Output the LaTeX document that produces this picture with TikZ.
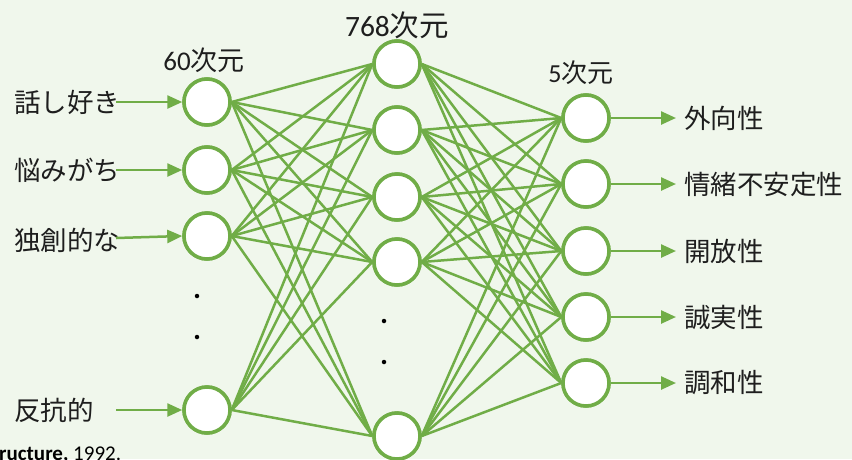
\documentclass[tikz,border=0pt]{standalone}
\usepackage{fontspec}
\setmainfont{Carlito}
\newfontfamily\jp{Noto Sans CJK JP}
\usetikzlibrary{arrows.meta}
\definecolor{bg}{RGB}{240,247,236}
\definecolor{gr}{RGB}{112,173,71}
\definecolor{tx}{RGB}{30,30,30}
\tikzset{
  neuron/.style={circle,draw=gr,line width=3.5pt,fill=white,inner sep=0pt,minimum size=46pt},
  link/.style={draw=gr,line width=2.5pt},
  io/.style={draw=gr,line width=2.5pt,-{Triangle[length=15pt,width=13pt]}},
  lbl/.style={font=\jp\fontsize{26.5}{30}\selectfont,text=tx,inner sep=0pt},
  dim/.style={text=tx,inner sep=0pt},
  dotc/.style={circle,fill=black,inner sep=0pt,minimum size=4.5pt}
}
\begin{document}
\begin{tikzpicture}[x=1pt,y=-1pt]
\useasboundingbox (0,0) rectangle (852,459);
\fill[bg] (0,0) rectangle (852,459);
\clip (0,0) rectangle (852,459);
% layer 1
\node[neuron] (a1) at (207,102) {};
\node[neuron] (a2) at (207,170) {};
\node[neuron] (a3) at (207,236) {};
\node[neuron] (a4) at (207,410) {};
% layer 2
\node[neuron] (b1) at (397,64) {};
\node[neuron] (b2) at (397,130) {};
\node[neuron] (b3) at (397,197) {};
\node[neuron] (b4) at (397,262) {};
\node[neuron] (b5) at (397,436) {};
% layer 3
\node[neuron] (c1) at (586,118) {};
\node[neuron] (c2) at (586,184) {};
\node[neuron] (c3) at (586,251) {};
\node[neuron] (c4) at (586,317) {};
\node[neuron] (c5) at (586,383) {};
% links
\foreach \i in {1,...,4}{\foreach \j in {1,...,5}{\path[link] (a\i.east) -- (b\j.west);}}
\foreach \i in {1,...,5}{\foreach \j in {1,...,5}{\path[link] (b\i.east) -- (c\j.west);}}
% redraw neurons on top
\foreach \n in {a1,a2,a3,a4,b1,b2,b3,b4,b5,c1,c2,c3,c4,c5}{\node[neuron] at (\n) {};}
% dimension labels
\node[dim,font=\fontsize{27}{30}\selectfont] (d1) at (204,60) {60{\jp 次元}};
\node[dim,font=\fontsize{29.5}{32}\selectfont] (d2) at (397,25) {768{\jp 次元}};
\node[dim,font=\fontsize{26}{29}\selectfont] (d3) at (581,73) {5{\jp 次元}};
% input labels
\node[lbl,anchor=west] (i1) at (14,102) {話し好き};
\node[lbl,anchor=west] (i2) at (14,170) {悩みがち};
\node[lbl,anchor=west] (i3) at (14,240) {独創的な};
\node[lbl,anchor=west] (i4) at (14,410) {反抗的};
\coordinate (s1) at (116,102);
\coordinate (s2) at (116,170);
\coordinate (s3) at (116,238);
\coordinate (s4) at (116,410);
\draw[io] (s1) -- (a1.west);
\draw[io] (s2) -- (a2.west);
\draw[io] (s3) -- (a3.west);
\draw[io] (s4) -- (a4.west);
% outputs
\node[lbl,anchor=west] (o1) at (684,118) {外向性};
\node[lbl,anchor=west] (o2) at (684,184) {情緒不安定性};
\node[lbl,anchor=west] (o3) at (684,251) {開放性};
\node[lbl,anchor=west] (o4) at (684,317) {誠実性};
\node[lbl,anchor=west] (o5) at (684,383) {調和性};
\coordinate (e1) at (676,118);
\coordinate (e2) at (676,184);
\coordinate (e3) at (676,251);
\coordinate (e4) at (676,317);
\coordinate (e5) at (676,383);
\foreach \k in {1,...,5}{\draw[io] (c\k.east) -- (e\k);}
% dots
\node[dotc] (p1) at (197,296) {};
\node[dotc] (p2) at (197,337) {};
\node[dotc] (q1) at (384,321) {};
\node[dotc] (q2) at (384,362) {};
% citation fragment
\node[anchor=base west,inner sep=0pt,text=black,font=\fontsize{21}{24}\selectfont] (cite) at (-1,460) {\textbf{ructure,} 1992.};
\end{tikzpicture}
\end{document}
